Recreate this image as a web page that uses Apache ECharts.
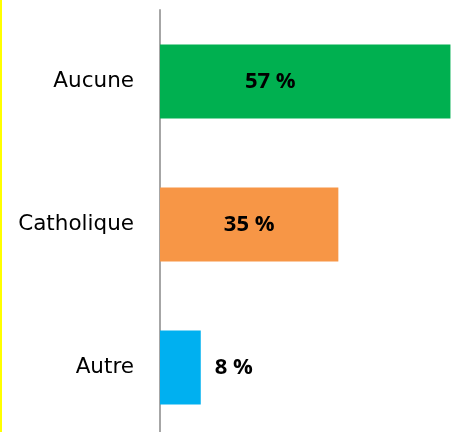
<!DOCTYPE html>
<html>
<head>
<meta charset="utf-8">
<script src="https://cdn.jsdelivr.net/npm/echarts@6/dist/echarts.min.js"></script>
<style>
html,body{margin:0;padding:0;background:#fff;}
#chart{position:absolute;left:0;top:0;width:451px;height:432px;border-left:2px solid #ffff00;}
</style>
</head>
<body>
<div id="chart"></div>
<script>
var categories = ['Aucune', 'Catholique', 'Autre'];
var values = [57, 35, 8];
var colors = ['#00b050', '#f79646', '#00b0f0'];
var labelOffsets = [[-35, 0], [0, 0], [0, 0]];
var labelPos = ['inside', 'inside', 'right'];

var chart = echarts.init(document.getElementById('chart'));

var data = values.map(function(v, i){
	return {
		value: v,
		itemStyle: { color: colors[i] },
		label: {
			position: labelPos[i],
			offset: labelOffsets[i],
			distance: 14
		}
	};
});

var option = {
	animation: false,
	grid: {
		left: 158,
		right: 0,
		top: 10,
		height: 429,
		outerBoundsMode: 'none'
	},
	xAxis: {
		type: 'value',
		min: 0,
		max: 57.5,
		show: false
	},
	yAxis: {
		type: 'category',
		data: categories,
		inverse: true,
		axisLine: { show: true, lineStyle: { color: '#a6a6a6', width: 2 } },
		axisTick: { show: false },
		axisLabel: {
			color: '#000',
			fontFamily: 'DejaVu Sans',
			fontSize: 21.5,
			margin: 26
		}
	},
	series: [{
		type: 'bar',
		barWidth: 74,
		data: data,
		label: {
			show: true,
			color: '#000',
			fontFamily: 'Open Sans',
			fontWeight: 'bold',
			fontSize: 22,
			formatter: '{c} %'
		}
	}]
};

chart.setOption(option);
</script>
</body>
</html>
